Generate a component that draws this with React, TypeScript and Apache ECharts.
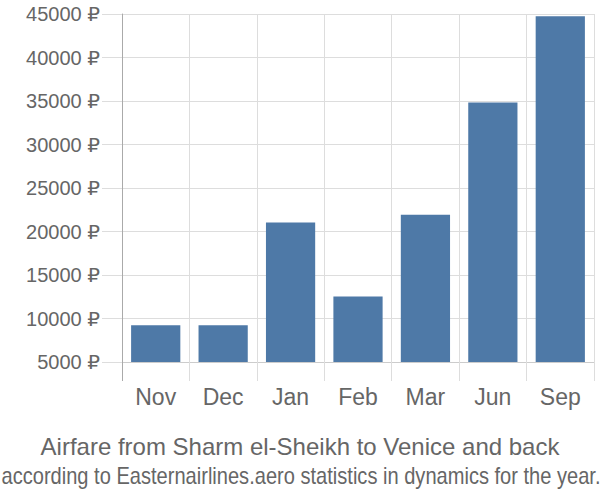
import React, { useEffect, useRef } from "react";
import * as echarts from "echarts";

const categories = ["Nov", "Dec", "Jan", "Feb", "Mar", "Jun", "Sep"];
const prices = [9220, 9230, 21030, 12520, 21920, 34840, 44740];
const titleText = "Airfare from Sharm el-Sheikh to Venice and back";
const subtitleText = "according to Easternairlines.aero statistics in dynamics for the year.";

const FONT = "'Liberation Sans', 'DejaVu Sans', Arial, sans-serif";

export default function App() {
  const ref = useRef<HTMLDivElement>(null);
  useEffect(() => {
    if (!ref.current) return;
    const chart = echarts.init(ref.current, null, { renderer: "svg" });
    chart.setOption({
      animation: false,
      backgroundColor: "#ffffff",
      textStyle: { fontFamily: FONT },
      grid: { left: 122, right: 6, top: 14, bottom: 138, containLabel: false },
      xAxis: {
        type: "category",
        data: categories,
        boundaryGap: true,
        axisLine: { show: true, lineStyle: { color: "#cccccc", width: 1 } },
        axisTick: { show: true, length: 19, interval: 0, lineStyle: { color: "#dddddd", width: 1 } },
        splitLine: { show: true, interval: 0, lineStyle: { color: "#dddddd", width: 1 } },
        axisLabel: { fontSize: 23, color: "#666666", margin: 23, fontFamily: FONT, interval: 0 },
      },
      yAxis: {
        type: "value",
        min: 5000,
        max: 45000,
        interval: 5000,
        axisLine: { show: true, lineStyle: { color: "#aaaaaa", width: 1 } },
        axisTick: { show: true, length: 20, lineStyle: { color: "#dddddd", width: 1 } },
        splitLine: { show: true, lineStyle: { color: "#dddddd", width: 1 } },
        axisLabel: {
          fontSize: 20,
          color: "#666666",
          margin: 22,
          fontFamily: FONT,
          formatter: (v: number) => String(v) + " ₽",
        },
      },
      graphic: [
        {
          type: "line",
          shape: { x1: 122.5, y1: 362, x2: 122.5, y2: 381 },
          style: { stroke: "#aaaaaa", lineWidth: 1 },
          z: 10,
        },
        {
          type: "text",
          x: 300,
          y: 446,
          style: {
            text: titleText,
            fontSize: 24,
            fontFamily: FONT,
            fill: "#666666",
            textAlign: "center",
            textVerticalAlign: "middle",
          },
        },
        {
          type: "text",
          x: 301,
          y: 476,
          scaleX: 0.873,
          style: {
            text: subtitleText,
            fontSize: 23,
            fontFamily: FONT,
            fill: "#666666",
            textAlign: "center",
            textVerticalAlign: "middle",
          },
        },
      ],
      series: [
        {
          type: "bar",
          data: prices,
          barCategoryGap: "27%",
          itemStyle: { color: "#4e79a7" },
        },
      ],
    });
    return () => chart.dispose();
  }, []);
  return <div ref={ref} style={{ width: 600, height: 500, position: "absolute", left: 0, top: 0 }} />;
}
